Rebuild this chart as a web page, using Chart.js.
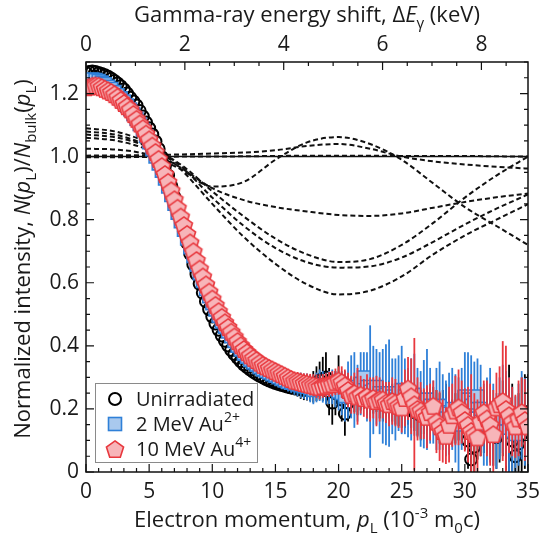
<!DOCTYPE html>
<html>
<head>
<meta charset="utf-8">
<script src="https://cdn.jsdelivr.net/npm/chart.js@4.4.1/dist/chart.umd.min.js"></script>
<style>
  html, body { margin: 0; padding: 0; background: #fff; }
  #wrap { width: 547px; height: 535px; }
</style>
</head>
<body>
<div id="wrap"><canvas id="chart" width="547" height="535"></canvas></div>
<script>
// measured spectra, electron momentum in 10^-3 m0c (one row per 5 units)
const momentum = [
  0, 0.25, 0.5, 0.75, 1, 1.25, 1.5, 1.75, 2, 2.25, 2.5, 2.75, 3, 3.25, 3.5, 3.75, 4, 4.25, 4.5, 4.75,
  5, 5.25, 5.5, 5.75, 6, 6.25, 6.5, 6.75, 7, 7.25, 7.5, 7.75, 8, 8.25, 8.5, 8.75, 9, 9.25, 9.5, 9.75,
  10, 10.25, 10.5, 10.75, 11, 11.25, 11.5, 11.75, 12, 12.25, 12.5, 12.75, 13, 13.25, 13.5, 13.75, 14, 14.25, 14.5, 14.75,
  15, 15.25, 15.5, 15.75, 16, 16.25, 16.5, 16.75, 17, 17.25, 17.5, 17.75, 18, 18.25, 18.5, 18.75, 19, 19.25, 19.5, 19.75,
  20, 20.25, 20.5, 20.75, 21, 21.25, 21.5, 21.75, 22, 22.25, 22.5, 22.75, 23, 23.25, 23.5, 23.75, 24, 24.25, 24.5, 24.75,
  25, 25.25, 25.5, 25.75, 26, 26.25, 26.5, 26.75, 27, 27.25, 27.5, 27.75, 28, 28.25, 28.5, 28.75, 29, 29.25, 29.5, 29.75,
  30, 30.25, 30.5, 30.75, 31, 31.25, 31.5, 31.75, 32, 32.25, 32.5, 32.75, 33, 33.25, 33.5, 33.75, 34, 34.25, 34.5, 34.75,
  35
];

const unirradiated = [
  1.265, 1.268, 1.27, 1.268, 1.265, 1.262, 1.258, 1.253, 1.247, 1.24, 1.232, 1.223, 1.213, 1.2, 1.187, 1.175, 1.162, 1.145, 1.127, 1.108,
  1.09, 1.07, 1.048, 1.024, 0.998, 0.97, 0.94, 0.907, 0.872, 0.836, 0.8, 0.763, 0.727, 0.692, 0.658, 0.627, 0.597, 0.568, 0.541, 0.516,
  0.493, 0.471, 0.451, 0.433, 0.416, 0.401, 0.387, 0.374, 0.362, 0.351, 0.341, 0.333, 0.325, 0.318, 0.311, 0.305, 0.3, 0.295, 0.29, 0.286,
  0.282, 0.279, 0.276, 0.273, 0.27, 0.268, 0.266, 0.264, 0.262, 0.26, 0.262, 0.265, 0.27, 0.28, 0.29, 0.295, 0.3, 0.255, 0.22, 0.25,
  0.29, 0.23, 0.185, 0.22, 0.25, 0.245, 0.24, 0.245, 0.25, 0.24, 0.23, 0.235, 0.24, 0.23, 0.22, 0.225, 0.23, 0.22, 0.21, 0.205,
  0.2, 0.21, 0.22, 0.2, 0.19, 0.185, 0.18, 0.19, 0.2, 0.205, 0.21, 0.19, 0.17, 0.18, 0.19, 0.175, 0.16, 0.17, 0.18, 0.165,
  0.15, 0.1, 0.04, 0.08, 0.12, 0.14, 0.16, 0.15, 0.13, 0.12, 0.11, 0.14, 0.17, 0.155, 0.14, 0.1, 0.05, 0.09, 0.12, 0.16,
  0.19
];
const unirradiatedErr = [
  0.004, 0.004, 0.004, 0.004, 0.004, 0.004, 0.004, 0.004, 0.004, 0.004, 0.004, 0.004, 0.004, 0.004, 0.004, 0.004, 0.004, 0.004, 0.004, 0.004,
  0.004, 0.004, 0.004, 0.004, 0.004, 0.004, 0.004, 0.004, 0.004, 0.004, 0.004, 0.004, 0.004, 0.004, 0.004, 0.004, 0.004, 0.004, 0.004, 0.004,
  0.006, 0.006, 0.007, 0.007, 0.008, 0.008, 0.009, 0.009, 0.01, 0.01, 0.011, 0.011, 0.012, 0.012, 0.013, 0.013, 0.014, 0.014, 0.015, 0.015,
  0.017, 0.018, 0.019, 0.02, 0.021, 0.022, 0.023, 0.025, 0.03, 0.032, 0.035, 0.04, 0.05, 0.055, 0.06, 0.07, 0.08, 0.075, 0.07, 0.07,
  0.08, 0.07, 0.07, 0.06, 0.05, 0.055, 0.06, 0.05, 0.05, 0.06, 0.06, 0.05, 0.05, 0.06, 0.06, 0.05, 0.06, 0.06, 0.06, 0.06,
  0.06, 0.07, 0.07, 0.06, 0.06, 0.07, 0.08, 0.07, 0.07, 0.06, 0.06, 0.07, 0.08, 0.08, 0.09, 0.08, 0.07, 0.08, 0.08, 0.08,
  0.08, 0.09, 0.09, 0.09, 0.08, 0.09, 0.1, 0.09, 0.09, 0.1, 0.1, 0.11, 0.12, 0.15, 0.2, 0.18, 0.15, 0.16, 0.18, 0.15,
  0.12
];

const au2 = [
  1.24, 1.243, 1.245, 1.243, 1.24, 1.235, 1.23, 1.222, 1.215, 1.205, 1.195, 1.185, 1.175, 1.162, 1.15, 1.135, 1.12, 1.103, 1.085, 1.065,
  1.045, 1.023, 1.0, 0.978, 0.955, 0.93, 0.905, 0.878, 0.85, 0.822, 0.795, 0.768, 0.74, 0.712, 0.685, 0.657, 0.63, 0.605, 0.58, 0.557,
  0.535, 0.515, 0.495, 0.477, 0.46, 0.445, 0.43, 0.415, 0.4, 0.388, 0.375, 0.365, 0.355, 0.347, 0.34, 0.332, 0.325, 0.32, 0.315, 0.31,
  0.305, 0.3, 0.295, 0.29, 0.285, 0.283, 0.28, 0.277, 0.275, 0.272, 0.27, 0.265, 0.26, 0.268, 0.275, 0.27, 0.265, 0.268, 0.27, 0.262,
  0.255, 0.25, 0.24, 0.26, 0.27, 0.26, 0.25, 0.28, 0.3, 0.27, 0.255, 0.26, 0.27, 0.25, 0.24, 0.245, 0.25, 0.24, 0.23, 0.25,
  0.26, 0.24, 0.22, 0.23, 0.245, 0.22, 0.2, 0.215, 0.23, 0.21, 0.19, 0.2, 0.21, 0.19, 0.17, 0.185, 0.2, 0.17, 0.15, 0.2,
  0.24, 0.23, 0.21, 0.22, 0.24, 0.2, 0.15, 0.16, 0.18, 0.15, 0.13, 0.17, 0.2, 0.17, 0.14, 0.13, 0.12, 0.15, 0.18, 0.16,
  0.15
];
const au2Err = [
  0.005, 0.005, 0.005, 0.005, 0.005, 0.005, 0.005, 0.005, 0.005, 0.005, 0.005, 0.005, 0.005, 0.005, 0.005, 0.005, 0.005, 0.005, 0.005, 0.005,
  0.005, 0.005, 0.005, 0.005, 0.005, 0.005, 0.005, 0.005, 0.005, 0.005, 0.005, 0.005, 0.005, 0.005, 0.005, 0.005, 0.005, 0.005, 0.005, 0.005,
  0.01, 0.01, 0.01, 0.011, 0.012, 0.012, 0.013, 0.014, 0.015, 0.015, 0.016, 0.017, 0.018, 0.019, 0.02, 0.02, 0.021, 0.022, 0.024, 0.025,
  0.025, 0.027, 0.03, 0.03, 0.03, 0.032, 0.035, 0.037, 0.04, 0.04, 0.042, 0.044, 0.045, 0.047, 0.05, 0.05, 0.05, 0.052, 0.055, 0.057,
  0.06, 0.07, 0.08, 0.09, 0.1, 0.12, 0.09, 0.1, 0.08, 0.11, 0.21, 0.14, 0.12, 0.13, 0.15, 0.16, 0.17, 0.12, 0.13, 0.12,
  0.14, 0.12, 0.11, 0.13, 0.13, 0.11, 0.12, 0.14, 0.16, 0.12, 0.1, 0.13, 0.14, 0.12, 0.12, 0.13, 0.13, 0.14, 0.15, 0.13,
  0.14, 0.15, 0.16, 0.13, 0.12, 0.14, 0.13, 0.14, 0.15, 0.13, 0.12, 0.13, 0.14, 0.15, 0.16, 0.14, 0.12, 0.13, 0.14, 0.14,
  0.15
];

const au10 = [
  1.22, 1.222, 1.225, 1.226, 1.225, 1.22, 1.215, 1.21, 1.205, 1.198, 1.19, 1.18, 1.17, 1.16, 1.15, 1.135, 1.12, 1.105, 1.09, 1.073,
  1.055, 1.035, 1.015, 0.993, 0.97, 0.945, 0.92, 0.893, 0.865, 0.838, 0.81, 0.783, 0.755, 0.728, 0.7, 0.672, 0.645, 0.62, 0.595, 0.572,
  0.55, 0.53, 0.51, 0.492, 0.475, 0.46, 0.445, 0.43, 0.415, 0.402, 0.39, 0.38, 0.37, 0.362, 0.355, 0.347, 0.34, 0.335, 0.33, 0.325,
  0.32, 0.315, 0.31, 0.305, 0.3, 0.295, 0.29, 0.288, 0.285, 0.282, 0.28, 0.277, 0.275, 0.272, 0.27, 0.273, 0.275, 0.278, 0.28, 0.286,
  0.29, 0.285, 0.275, 0.26, 0.245, 0.25, 0.24, 0.245, 0.235, 0.24, 0.23, 0.235, 0.225, 0.23, 0.23, 0.22, 0.215, 0.225, 0.22, 0.21,
  0.205, 0.235, 0.265, 0.24, 0.215, 0.2, 0.195, 0.185, 0.175, 0.19, 0.21, 0.16, 0.145, 0.13, 0.115, 0.15, 0.18, 0.195, 0.205, 0.19,
  0.165, 0.15, 0.13, 0.12, 0.11, 0.16, 0.19, 0.17, 0.15, 0.12, 0.205, 0.215, 0.225, 0.2, 0.18, 0.16, 0.145, 0.17, 0.19, 0.165,
  0.145
];
const au10Err = [
  0.004, 0.004, 0.004, 0.004, 0.004, 0.004, 0.004, 0.004, 0.004, 0.004, 0.004, 0.004, 0.004, 0.004, 0.004, 0.004, 0.004, 0.004, 0.004, 0.004,
  0.004, 0.004, 0.004, 0.004, 0.004, 0.004, 0.004, 0.004, 0.004, 0.004, 0.004, 0.004, 0.004, 0.004, 0.004, 0.004, 0.004, 0.004, 0.004, 0.004,
  0.008, 0.008, 0.009, 0.009, 0.01, 0.01, 0.011, 0.011, 0.012, 0.012, 0.013, 0.013, 0.014, 0.014, 0.015, 0.015, 0.016, 0.017, 0.018, 0.018,
  0.02, 0.021, 0.022, 0.023, 0.025, 0.026, 0.028, 0.029, 0.03, 0.031, 0.032, 0.034, 0.035, 0.037, 0.04, 0.038, 0.038, 0.04, 0.04, 0.042,
  0.045, 0.05, 0.05, 0.055, 0.06, 0.065, 0.09, 0.06, 0.06, 0.07, 0.07, 0.065, 0.08, 0.07, 0.06, 0.065, 0.07, 0.075, 0.075, 0.07,
  0.08, 0.09, 0.1, 0.12, 0.21, 0.1, 0.09, 0.08, 0.1, 0.09, 0.08, 0.1, 0.11, 0.1, 0.09, 0.12, 0.1, 0.11, 0.12, 0.1,
  0.1, 0.12, 0.18, 0.13, 0.12, 0.11, 0.1, 0.12, 0.13, 0.14, 0.11, 0.12, 0.19, 0.2, 0.12, 0.11, 0.1, 0.12, 0.11, 0.13,
  0.12
];

// calculated ratio curves (dashed lines)
const calcMomentum = [0, 2.5, 5, 7.5, 10, 12.5, 15, 17.5, 20, 22.5, 25, 27.5, 30, 32.5, 35];
const calcCurves = [
  [1.025, 1.022, 1.005, 0.96, 0.905, 0.92, 0.99, 1.045, 1.062, 1.04, 0.99, 0.915, 0.84, 0.78, 0.72],
  [1.003, 1.004, 1.005, 1.007, 1.01, 1.013, 1.02, 1.034, 1.04, 1.025, 1.0, 0.985, 0.975, 0.968, 0.962],
  [0.998, 0.998, 0.999, 1.0, 1.0, 1.001, 1.002, 1.003, 1.003, 1.003, 1.002, 1.002, 1.002, 1.001, 1.0],
  [1.06, 1.05, 1.02, 0.965, 0.9, 0.862, 0.84, 0.826, 0.815, 0.812, 0.82, 0.838, 0.856, 0.871, 0.883],
  [1.07, 1.06, 1.03, 0.975, 0.89, 0.81, 0.74, 0.69, 0.666, 0.675, 0.72, 0.79, 0.87, 0.94, 1.0],
  [1.08, 1.068, 1.032, 0.97, 0.87, 0.78, 0.71, 0.665, 0.648, 0.652, 0.68, 0.73, 0.785, 0.835, 0.88],
  [1.09, 1.078, 1.04, 0.96, 0.85, 0.745, 0.66, 0.595, 0.563, 0.575, 0.62, 0.69, 0.75, 0.8, 0.849]
];

// bulk reference level
const bulkMomentum = [0, 35];
const bulkLevel = [1, 1];

// axis ticks
const xTickLabels = [0, 5, 10, 15, 20, 25, 30, 35];
const keVTickLabels = [0, 2, 4, 6, 8];
const yTickLabels = [0, 0.2, 0.4, 0.6, 0.8, 1.0, 1.2];
const KEV_PER_UNIT = 0.2555; // Delta E = p c / 2, 1e-3 m0c -> 0.2555 keV

const FONT = "'Open Sans', 'Noto Sans', sans-serif";
const TEXT = "#1a1a1a";
const TICK_SIZE = 21;
const TITLE_SIZE = 22;

function pairs(xs, ys) {
  return xs.map((x, i) => ({ x: x, y: ys[i] }));
}

function tracePentagon(g, cx, cy, r) {
  g.beginPath();
  for (let k = 0; k < 5; k++) {
    const a = -Math.PI / 2 + k * 2 * Math.PI / 5;
    const px = cx + r * Math.cos(a);
    const py = cy + r * Math.sin(a);
    if (k === 0) g.moveTo(px, py); else g.lineTo(px, py);
  }
  g.closePath();
}

function pentagonImage(r, fill, stroke) {
  const c = document.createElement("canvas");
  const s = Math.ceil(2 * r + 4);
  c.width = s;
  c.height = s;
  const g = c.getContext("2d");
  tracePentagon(g, s / 2, s / 2 + r * 0.1, r);
  g.fillStyle = fill;
  g.fill();
  g.lineWidth = 1.6;
  g.strokeStyle = stroke;
  g.stroke();
  return c;
}

const RED = "#e8383e", PINK = "#f7b5b9";
const BLUE = "#2f80d8", LIGHTBLUE = "#a9c9ee";
const pentagon = pentagonImage(9, PINK, RED);

// draw a line of text with italic / sub / superscript pieces, centred on cx
function drawRich(ctx, parts, cx, baseline, size) {
  const fontFor = (p) =>
    (p.it ? "italic " : "") + ((p.sub || p.sup) ? Math.round(size * 0.68) : size) + "px " + FONT;
  let total = 0;
  parts.forEach((p) => {
    ctx.font = fontFor(p);
    total += ctx.measureText(p.t).width;
  });
  let x = cx - total / 2;
  ctx.textAlign = "left";
  ctx.textBaseline = "alphabetic";
  parts.forEach((p) => {
    ctx.font = fontFor(p);
    const dy = p.sub ? size * 0.28 : p.sup ? -size * 0.42 : 0;
    ctx.fillText(p.t, x, baseline + dy);
    x += ctx.measureText(p.t).width;
  });
}

const errorBars = {
  id: "errorBars",
  beforeDatasetDraw(chart, args) {
    const ds = chart.data.datasets[args.index];
    if (!ds.errors) return;
    const ctx = chart.ctx, xs = chart.scales.x, ys = chart.scales.y, area = chart.chartArea;
    ctx.save();
    ctx.beginPath();
    ctx.rect(area.left, area.top, area.right - area.left, area.bottom - area.top);
    ctx.clip();
    ctx.strokeStyle = ds.errorColor;
    ctx.lineWidth = 1.8;
    ds.data.forEach((pt, i) => {
      const e = ds.errors[i];
      const px = xs.getPixelForValue(pt.x);
      ctx.beginPath();
      ctx.moveTo(px, ys.getPixelForValue(pt.y - e));
      ctx.lineTo(px, ys.getPixelForValue(pt.y + e));
      ctx.stroke();
    });
    ctx.restore();
  }
};

const frameAndText = {
  id: "frameAndText",
  afterDraw(chart) {
    const ctx = chart.ctx, a = chart.chartArea;
    const xs = chart.scales.x, xt = chart.scales.xTop, ys = chart.scales.y;
    ctx.save();
    ctx.strokeStyle = "#111";
    ctx.lineWidth = 1.5;
    ctx.strokeRect(a.left, a.top, a.right - a.left, a.bottom - a.top);

    // inward ticks
    ctx.lineWidth = 1.2;
    ctx.beginPath();
    for (let v = 0; v <= 35; v += 1) {
      const px = xs.getPixelForValue(v);
      const len = v % 5 === 0 ? 8 : 4;
      ctx.moveTo(px, a.bottom);
      ctx.lineTo(px, a.bottom - len);
    }
    for (let k = 0; k * 0.5 <= 35 * KEV_PER_UNIT; k++) {
      const px = xt.getPixelForValue(k * 0.5);
      const len = k % 4 === 0 ? 8 : 4;
      ctx.moveTo(px, a.top);
      ctx.lineTo(px, a.top + len);
    }
    for (let k = 0; k <= 26; k++) {
      const py = ys.getPixelForValue(k * 0.05);
      const len = k % 4 === 0 ? 8 : 4;
      ctx.moveTo(a.left, py);
      ctx.lineTo(a.left + len, py);
      ctx.moveTo(a.right, py);
      ctx.lineTo(a.right - len, py);
    }
    ctx.stroke();

    // axis titles
    ctx.fillStyle = TEXT;
    const cx = (a.left + a.right) / 2;
    drawRich(ctx, [
      { t: "Electron momentum, " }, { t: "p", it: true }, { t: "L", sub: true },
      { t: " (10" }, { t: "-3", sup: true }, { t: " m" }, { t: "0", sub: true }, { t: "c)" }
    ], cx, a.bottom + 55, TITLE_SIZE);
    drawRich(ctx, [
      { t: "Gamma-ray energy shift, \u0394" }, { t: "E", it: true }, { t: "\u03b3", sub: true }, { t: " (keV)" }
    ], cx, a.top - 40, TITLE_SIZE);
    ctx.save();
    ctx.translate(30, (a.top + a.bottom) / 2 - 8);
    ctx.rotate(-Math.PI / 2);
    drawRich(ctx, [
      { t: "Normalized intensity, " }, { t: "N", it: true }, { t: "(" }, { t: "p", it: true }, { t: "L", sub: true },
      { t: ")/" }, { t: "N", it: true }, { t: "bulk", sub: true }, { t: "(" }, { t: "p", it: true }, { t: "L", sub: true }, { t: ")" }
    ], 0, 0, TITLE_SIZE);
    ctx.restore();

    // legend
    const lx = 95, ly = 383, lw = 162, lh = 79;
    ctx.fillStyle = "#fff";
    ctx.fillRect(lx, ly, lw, lh);
    ctx.strokeStyle = "#8a8a8a";
    ctx.lineWidth = 1;
    ctx.strokeRect(lx + 0.5, ly + 0.5, lw, lh);
    const symX = 115, textX = 136;
    const rows = [399, 424, 449];
    // circle
    ctx.beginPath();
    ctx.arc(symX, rows[0], 6, 0, 2 * Math.PI);
    ctx.strokeStyle = "#000";
    ctx.lineWidth = 2;
    ctx.stroke();
    // square
    ctx.fillStyle = LIGHTBLUE;
    ctx.fillRect(symX - 6.5, rows[1] - 6.5, 13, 13);
    ctx.strokeStyle = BLUE;
    ctx.lineWidth = 1.6;
    ctx.strokeRect(symX - 6.5, rows[1] - 6.5, 13, 13);
    // pentagon
    ctx.drawImage(pentagon, symX - pentagon.width / 2, rows[2] - pentagon.height / 2);

    ctx.fillStyle = TEXT;
    legendOrder.forEach((ds, i) => {
      let x = textX;
      ctx.textAlign = "left";
      ctx.textBaseline = "alphabetic";
      ds.legendParts.forEach((p) => {
        const size = p.sup ? 14 : 20;
        ctx.font = size + "px " + FONT;
        ctx.fillText(p.t, x, rows[i] + 7 + (p.sup ? -9 : 0));
        x += ctx.measureText(p.t).width;
      });
    });
    ctx.restore();
  }
};

const au10Set = {
  label: "10 MeV Au4+",
  legendParts: [{ t: "10 MeV Au" }, { t: "4+", sup: true }],
  data: pairs(momentum, au10),
  errors: au10Err,
  errorColor: RED,
  showLine: false,
  pointStyle: pentagon,
  pointRadius: 9,
  order: 1
};
const au2Set = {
  label: "2 MeV Au2+",
  legendParts: [{ t: "2 MeV Au" }, { t: "2+", sup: true }],
  data: pairs(momentum, au2),
  errors: au2Err,
  errorColor: BLUE,
  showLine: false,
  pointStyle: "rect",
  pointRadius: 9,
  pointBackgroundColor: LIGHTBLUE,
  pointBorderColor: BLUE,
  pointBorderWidth: 1.6,
  order: 2
};
const unirradiatedSet = {
  label: "Unirradiated",
  legendParts: [{ t: "Unirradiated" }],
  data: pairs(momentum, unirradiated),
  errors: unirradiatedErr,
  errorColor: "#000",
  showLine: false,
  pointStyle: "circle",
  pointRadius: 6,
  pointBackgroundColor: "rgba(0,0,0,0)",
  pointBorderColor: "#000",
  pointBorderWidth: 2,
  order: 3
};
const legendOrder = [unirradiatedSet, au2Set, au10Set];

const datasets = [au10Set, au2Set, unirradiatedSet];
calcCurves.forEach((curve, i) => {
  datasets.push({
    label: "calc " + (i + 1),
    data: pairs(calcMomentum, curve),
    showLine: true,
    borderColor: "#111",
    borderWidth: 2,
    borderDash: [5, 3],
    pointRadius: 0,
    cubicInterpolationMode: "monotone",
    order: 5
  });
});
datasets.push({
  label: "bulk",
  data: pairs(bulkMomentum, bulkLevel),
  showLine: true,
  borderColor: "#111",
  borderWidth: 1.5,
  pointRadius: 0,
  order: 6
});

const near = (list, v) => list.some((t) => Math.abs(t - v) < 1e-6);

new Chart(document.getElementById("chart").getContext("2d"), {
  type: "scatter",
  data: { datasets: datasets },
  options: {
    responsive: false,
    animation: false,
    devicePixelRatio: 1,
    layout: { padding: { left: 0, right: 19, top: 0, bottom: 0 } },
    plugins: { legend: { display: false }, tooltip: { enabled: false } },
    scales: {
      x: {
        type: "linear",
        position: "bottom",
        min: 0,
        max: 35,
        grid: { display: false, drawTicks: false },
        border: { display: false },
        ticks: {
          stepSize: 1,
          autoSkip: false,
          maxRotation: 0,
          padding: 7,
          color: TEXT,
          font: { family: FONT, size: TICK_SIZE },
          callback: (v) => (near(xTickLabels, v) ? String(v) : "")
        },
        afterFit: (s) => { s.height = 63; s.paddingLeft = 0; s.paddingRight = 0; }
      },
      xTop: {
        type: "linear",
        position: "top",
        min: 0,
        max: 35 * KEV_PER_UNIT,
        grid: { display: false, drawTicks: false },
        border: { display: false },
        ticks: {
          stepSize: 0.5,
          autoSkip: false,
          maxRotation: 0,
          padding: 4,
          color: TEXT,
          font: { family: FONT, size: TICK_SIZE },
          callback: (v) => (near(keVTickLabels, v) ? String(Math.round(v)) : "")
        },
        afterFit: (s) => { s.height = 62; s.paddingLeft = 0; s.paddingRight = 0; }
      },
      y: {
        type: "linear",
        min: 0,
        max: 1.3,
        grid: { display: false, drawTicks: false },
        border: { display: false },
        ticks: {
          stepSize: 0.05,
          autoSkip: false,
          padding: 7,
          color: TEXT,
          font: { family: FONT, size: TICK_SIZE },
          callback: (v) => (near(yTickLabels, v) ? (v === 0 ? "0" : v.toFixed(1)) : "")
        },
        afterFit: (s) => { s.width = 86; s.paddingTop = 0; s.paddingBottom = 0; }
      }
    }
  },
  plugins: [errorBars, frameAndText]
});
</script>
</body>
</html>
